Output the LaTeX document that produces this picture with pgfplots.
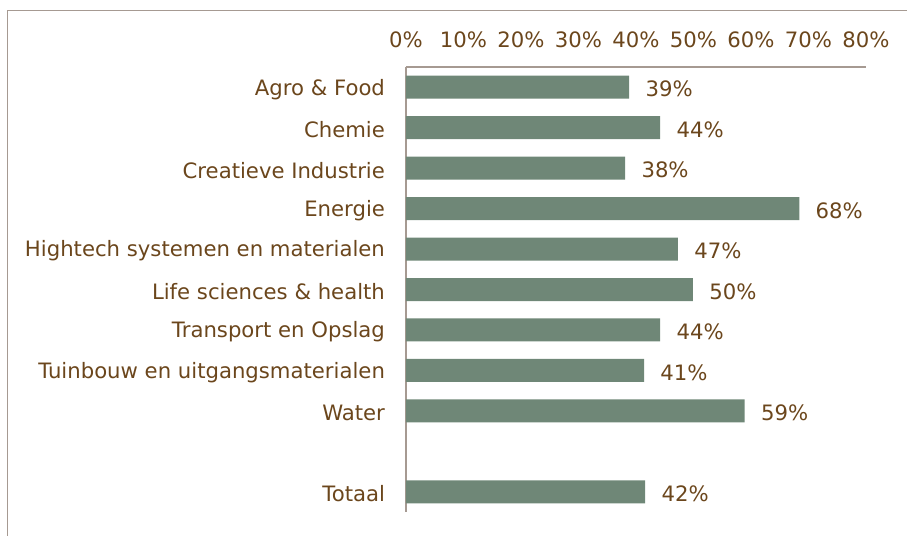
\documentclass[border=0pt]{standalone}
\usepackage{pgfplots}
\pgfplotsset{compat=1.18}
\usepackage{fontspec}
\setmainfont{DejaVu Sans}
\definecolor{barfill}{HTML}{6F8777}
\definecolor{txt}{HTML}{6B461C}
\definecolor{frame}{HTML}{A69A92}
\newcommand{\lblfont}{\fontsize{10.6}{12.7}\selectfont}
\begin{document}
\begin{tikzpicture}
\useasboundingbox (-203pt,-234.5pt) rectangle (250.5pt,33.5pt);
% chart frame (right and bottom fall outside the crop)
\draw[frame,line width=0.8pt] (-199.25pt,-240pt) -- (-199.25pt,28.25pt) -- (260pt,28.25pt);
\begin{axis}[
  at={(0pt,0pt)},anchor=north west,
  scale only axis,width=230pt,height=222.5pt,
  xbar,bar width=11.5pt,
  xmin=0,xmax=80,ymin=-0.5,ymax=10.5,y dir=reverse,
  axis x line*=top,axis y line*=left,
  axis line style={frame,line width=0.8pt},
  major tick length=0pt,
  /pgf/number format/assume math mode=true,
  xtick={0,10,...,80},
  xticklabel={\pgfmathprintnumber{\tick}\%},
  xticklabel style={font=\lblfont,text=txt,yshift=6pt},
  ytick={0,1,2,3,4,5,6,7,8,10},
  yticklabels={Agro \& Food,Chemie,Creatieve Industrie,Energie,Hightech systemen en materialen,Life sciences \& health,Transport en Opslag,Tuinbouw en uitgangsmaterialen,Water,Totaal},
  yticklabel style={font=\lblfont,text=txt,xshift=-7pt,yshift=-1pt},
  nodes near coords={\pgfmathprintnumber[fixed,precision=0]{\pgfplotspointmeta}\%},
  every node near coord/.append style={font=\lblfont,text=txt,anchor=west,xshift=4.7pt,yshift=-1pt},
  point meta=x,
]
\addplot[fill=barfill,draw=none] coordinates {
(38.8,0) (44.2,1) (38.1,2) (68.4,3) (47.3,4) (49.9,5) (44.2,6) (41.4,7) (58.9,8) (41.6,10)};
\end{axis}
\end{tikzpicture}
\end{document}
